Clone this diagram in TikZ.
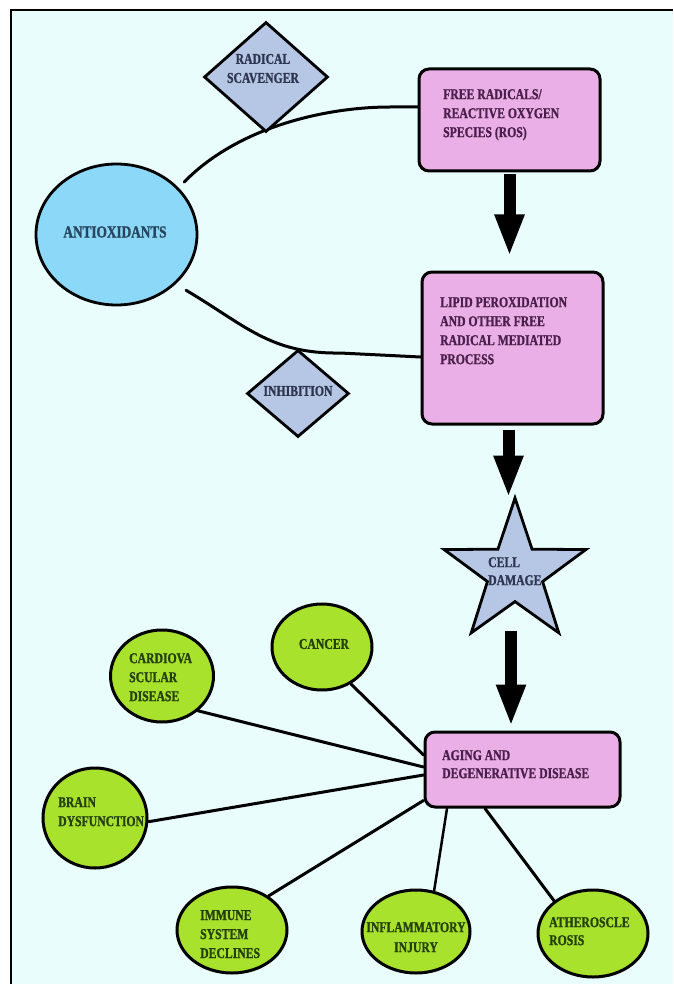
\documentclass[tikz,border=0pt]{standalone}
\usepackage{fontspec}
\usetikzlibrary{shapes.geometric,arrows.meta,calc}
\newfontfamily\condf[UprightFont={* Bold}, FakeStretch=0.78, FakeBold=1.1]{Liberation Serif}
\newcommand\myfnt[2]{\condf\fontsize{#1}{#2}\selectfont}
\definecolor{bgc}{HTML}{EAFDFD}
\definecolor{antc}{HTML}{8CD8F8}
\definecolor{diac}{HTML}{B5C7E5}
\definecolor{boxc}{HTML}{EAAFE6}
\definecolor{grc}{HTML}{A8E22C}
\definecolor{boxt}{HTML}{4B1F4B}
\definecolor{grt}{HTML}{24400F}
\definecolor{diat}{HTML}{2E3550}
\definecolor{antt}{HTML}{28455F}
\pgfdeclarelayer{back}
\pgfdeclarelayer{mid}
\pgfsetlayers{back,mid,main}
\begin{document}
\begin{tikzpicture}[x=1pt,y=-1pt,
  pbox/.style={draw=black, line width=3pt, fill=boxc, rounded corners=10pt, inner sep=0pt},
  aell/.style={ellipse, draw=black, line width=2.8pt, inner sep=0pt},
  gell/.style={ellipse, draw=black, line width=3pt, fill=grc, inner sep=0pt},
  dia/.style={diamond, draw=black, line width=2.8pt, fill=diac, inner sep=0pt},
  conn/.style={line width=3pt, line cap=round},
  barrow/.style={line width=12pt, -{Triangle[width=27pt,length=42pt]}},
  txt/.style={inner sep=0pt, font=\myfnt{15}{19}}
]
\useasboundingbox (0,0) rectangle (673,984);
\begin{pgfonlayer}{back}
\fill[white] (0,0) rectangle (673,984);
\fill[bgc] (11,10) rectangle (673,984);
\draw[line width=2.4pt] (11,984) -- (11,10) -- (673,10);
\end{pgfonlayer}

% shapes
\node[pbox, minimum width=181pt, minimum height=102pt] (ros) at (509.5,120) {};
\node[pbox, minimum width=181pt, minimum height=152pt] (lipid) at (512.5,348) {};
\node[pbox, minimum width=195pt, minimum height=75pt] (aging) at (522.5,769.5) {};
\node[aell, fill=antc, minimum width=161pt, minimum height=141pt] (antiox) at (116.5,234.5) {};
\node[dia, minimum width=124pt, minimum height=110pt] (scav) at (266,77) {};
\node[dia, minimum width=102pt, minimum height=87pt] (inhib) at (298,393.5) {};
\node[star, star points=5, star point ratio=2.57, minimum size=149pt, draw=black, line width=2.8pt, fill=diac, inner sep=0pt] (cell) at (515,572.6) {};
\node[gell, minimum width=100pt, minimum height=86pt] (cancer) at (322,647) {};
\node[gell, minimum width=103pt, minimum height=92pt] (cardio) at (162,676) {};
\node[gell, minimum width=104pt, minimum height=100pt] (brain) at (95,818) {};
\node[gell, minimum width=110pt, minimum height=86pt] (immune) at (232,930) {};
\node[gell, minimum width=108pt, minimum height=83pt] (inflam) at (416,931.5) {};
\node[gell, minimum width=110pt, minimum height=87pt] (ather) at (593,933.5) {};

% texts
\node[txt, font=\myfnt{17}{20}, text=antt] (antiotxt) at (115,232) {ANTIOXIDANTS};
\node[txt, text=diat, align=center] (scavtxt) at (263,68.5) {RADICAL\\SCAVENGER};
\node[txt, text=diat] (inhibtxt) at (298,391) {INHIBITION};
\node[txt, text=boxt, anchor=north west, align=left] (rostxt) at (443,89) {FREE RADICALS/\\REACTIVE OXYGEN\\SPECIES (ROS)};
\node[txt, text=boxt, anchor=north west, align=left] (lipidtxt) at (440,297) {LIPID PEROXIDATION\\AND OTHER FREE\\RADICAL MEDIATED\\PROCESS};
\node[txt, text=diat, anchor=north west, align=left, font=\myfnt{15}{18}] (celltxt) at (488,557) {CELL\\DAMAGE};
\node[txt, text=boxt, anchor=north west, align=left, font=\myfnt{15}{18}] (agingtxt) at (442,750) {AGING AND\\DEGENERATIVE DISEASE};
\node[txt, text=grt] (cancertxt) at (324,644) {CANCER};
\node[txt, text=grt, anchor=north west, align=left] (cardiotxt) at (129,653) {CARDIOVA\\SCULAR\\DISEASE};
\node[txt, text=grt, anchor=north west, align=left] (braintxt) at (58,797) {BRAIN\\DYSFUNCTION};
\node[txt, text=grt, anchor=north west, align=left] (immunetxt) at (200,910) {IMMUNE\\SYSTEM\\DECLINES};
\node[txt, text=grt, anchor=north, align=center, font=\myfnt{15}{20}] (inflamtxt) at (416,922) {INFLAMMATORY\\INJURY};
\node[txt, text=grt, anchor=north west, align=left, font=\myfnt{15}{18}] (athertxt) at (549,917) {ATHEROSCLE\\ROSIS};

% connectors
\begin{pgfonlayer}{mid}
\draw[conn, shorten <=8pt] (antiox.37) .. controls (240,125) and (330,107) .. (390,107) -- ([yshift=13pt]ros.west);
\draw[conn, shorten <=12pt] (antiox.-40) .. controls (245,325) and (270,354) .. (340,353) -- ([yshift=-9pt]lipid.west);
\draw[conn] (cancer.-52) -- ([yshift=14.5pt]aging.west);
\draw[conn] (cardio.-44) -- ([yshift=2.5pt]aging.west);
\draw[conn] (brain.-4) -- ([yshift=-5.5pt]aging.west);
\draw[conn] (immune.43) -- ([yshift=-31pt]aging.west);
\draw[conn, line width=2.5pt] (inflam.66) -- ([xshift=-75.5pt]aging.south);
\draw[conn] (ather.140) -- ([xshift=-37.5pt]aging.south);
\end{pgfonlayer}

% block arrows
\draw[barrow, shorten <=2pt, shorten >=14pt] (ros.south) -- (ros.south |- lipid.north);
\draw[barrow, shorten <=4pt, shorten >=-4pt] ([xshift=-4pt]lipid.south) -- ([xshift=-4pt]lipid.south |- cell.north);
\draw[barrow, shorten <=28pt, shorten >=4pt] ([xshift=-4pt]cell.south) -- ([xshift=-4pt]cell.south |- aging.north);
\end{tikzpicture}
\end{document}
